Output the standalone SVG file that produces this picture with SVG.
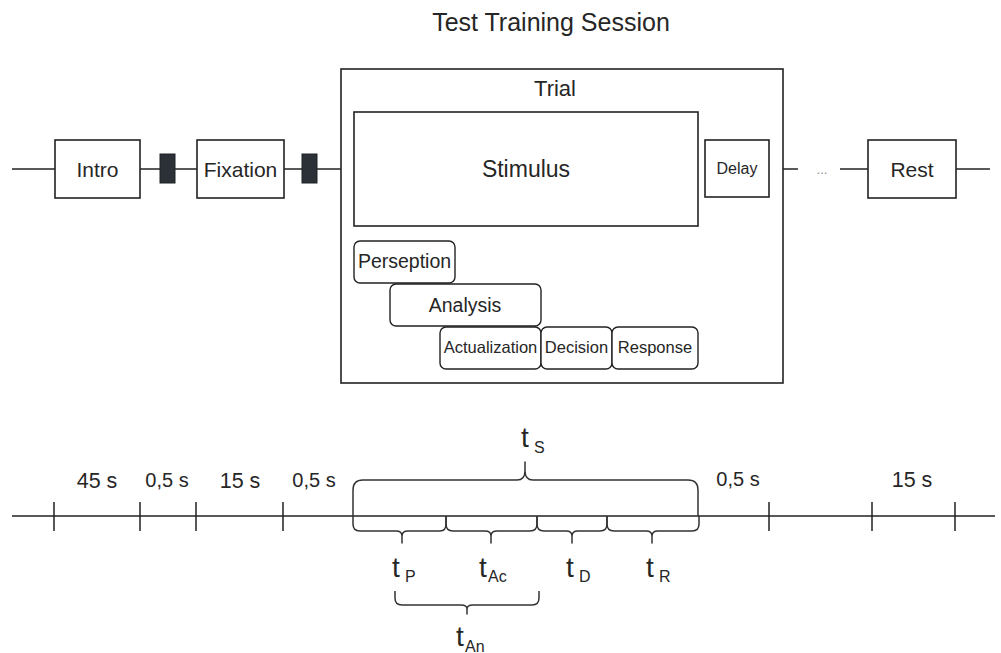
<svg xmlns="http://www.w3.org/2000/svg" width="1001" height="653" viewBox="0 0 1001 653">
<style>
  text { font-family: "Liberation Sans", Arial, sans-serif; fill: #262626; }
  .box { fill: #fff; stroke: #222; stroke-width: 1.6; }
  .rbox { fill: #fff; stroke: #222; stroke-width: 1.4; }
  .blk { fill: #2b3136; stroke: #1e2226; stroke-width: 1; }
  .ln { fill: none; stroke: #222; stroke-width: 1.5; }
  .br { fill: none; stroke: #333; stroke-width: 1.5; stroke-linejoin: round; }
  .c { text-anchor: middle; }
  .t { font-size: 28px; }
  .sub { font-size: 16px; }
  .dur { font-size: 21.5px; text-anchor: middle; }
  .half { font-size: 20px; text-anchor: middle; }
</style>
<rect width="1001" height="653" fill="#fff"/>
<text x="551" y="31" class="c" font-size="25">Test Training Session</text>

<g id="connectors">
  <line class="ln" x1="12" y1="169" x2="55" y2="169"/>
  <line class="ln" x1="140" y1="169" x2="160" y2="169"/>
  <line class="ln" x1="175" y1="169" x2="197" y2="169"/>
  <line class="ln" x1="284" y1="169" x2="302" y2="169"/>
  <line class="ln" x1="317" y1="169" x2="354" y2="169"/>
  <line class="ln" x1="698" y1="169" x2="705" y2="169"/>
  <line class="ln" x1="769" y1="169" x2="798" y2="169"/>
  <line class="ln" x1="840" y1="169" x2="868" y2="169"/>
  <line class="ln" x1="956" y1="169" x2="990" y2="169"/>
</g>

<g id="trial">
  <rect class="box" x="341" y="69" width="442" height="314" fill="none"/>
  <text x="555" y="96" class="c" font-size="22">Trial</text>
</g>
<g id="intro">
  <rect class="box" x="55" y="140" width="85" height="58"/>
  <text x="97.5" y="177" class="c" font-size="21">Intro</text>
</g>
<g id="block1"><rect class="blk" x="160" y="154" width="15" height="29"/></g>
<g id="fixation">
  <rect class="box" x="197" y="140" width="87" height="58"/>
  <text x="240.5" y="177" class="c" font-size="21">Fixation</text>
</g>
<g id="block2"><rect class="blk" x="302" y="154" width="15" height="29"/></g>
<g id="stimulus">
  <rect class="box" x="354" y="112" width="344" height="114"/>
  <text x="526" y="177" class="c" font-size="23">Stimulus</text>
</g>
<g id="delay">
  <rect class="box" x="705" y="140" width="64" height="57"/>
  <text x="737" y="174" class="c" font-size="16">Delay</text>
</g>
<g id="ellipsis">
  <text x="822" y="174" class="c" font-size="13" style="fill:#888">...</text>
</g>
<g id="rest">
  <rect class="box" x="868" y="140" width="88" height="58"/>
  <text x="912" y="177" class="c" font-size="21">Rest</text>
</g>
<g id="perseption">
  <rect class="rbox" x="354" y="241" width="101" height="42" rx="6"/>
  <text x="404.5" y="268" class="c" font-size="19.5">Perseption</text>
</g>
<g id="analysis">
  <rect class="rbox" x="390" y="284" width="151" height="42" rx="6"/>
  <text x="465" y="312" class="c" font-size="19.5">Analysis</text>
</g>
<g id="actualization">
  <rect class="rbox" x="440" y="327" width="101" height="42" rx="6"/>
  <text x="490.5" y="353" class="c" font-size="16.5">Actualization</text>
</g>
<g id="decision">
  <rect class="rbox" x="541" y="327" width="71" height="42" rx="6"/>
  <text x="576.5" y="353" class="c" font-size="16.5">Decision</text>
</g>
<g id="response">
  <rect class="rbox" x="612" y="327" width="86" height="42" rx="6"/>
  <text x="655" y="353" class="c" font-size="16.5">Response</text>
</g>

<g id="timeline">
  <line class="ln" x1="12" y1="516" x2="995" y2="516"/>
  <path class="ln" d="M54,502V531 M140,502V531 M196,502V531 M283,502V531 M769,502V531 M872,502V531 M955,502V531"/>
  <text x="97" y="488" class="dur">45 s</text>
  <text x="167" y="487" class="half">0,5 s</text>
  <text x="240" y="488" class="dur">15 s</text>
  <text x="314" y="487" class="half">0,5 s</text>
  <text x="738" y="486" class="half">0,5 s</text>
  <text x="912" y="487" class="dur">15 s</text>
</g>

<g id="braces">
  <path class="br" d="M353,516V490Q353,480 363,480H517Q525,480 525,471V462V471Q525,480 533,480H688Q698,480 698,490V516"/>
  <path class="br" d="M353,516V524Q353,531 360,531H396Q402,531 402,536V543V536Q402,531 408,531H440Q446,531 446,524V516"/>
  <path class="br" d="M446,516V524Q446,531 453,531H485Q491,531 491,536V543V536Q491,531 497,531H530Q537,531 537,524V516"/>
  <path class="br" d="M537,516V524Q537,531 544,531H566Q572,531 572,536V543V536Q572,531 578,531H600Q607,531 607,524V516"/>
  <path class="br" d="M607,516V524Q607,531 614,531H646Q652,531 652,536V543V536Q652,531 658,531H692Q699,531 699,524V516"/>
  <path class="br" d="M395,591V598Q395,605 402,605H461Q467,605 467,609V614V609Q467,605 473,605H532Q539,605 539,598V591"/>
</g>

<g id="labels">
  <text><tspan x="521" y="447" class="t">t</tspan><tspan x="534" y="453" class="sub">S</tspan></text>
  <text><tspan x="392" y="577" class="t">t</tspan><tspan x="405" y="582" class="sub">P</tspan></text>
  <text><tspan x="479" y="577" class="t">t</tspan><tspan x="488" y="582" class="sub">Ac</tspan></text>
  <text><tspan x="566" y="577" class="t">t</tspan><tspan x="579" y="582" class="sub">D</tspan></text>
  <text><tspan x="646" y="577" class="t">t</tspan><tspan x="659" y="582" class="sub">R</tspan></text>
  <text><tspan x="456" y="646" class="t">t</tspan><tspan x="465" y="652" class="sub">An</tspan></text>
</g>
</svg>
